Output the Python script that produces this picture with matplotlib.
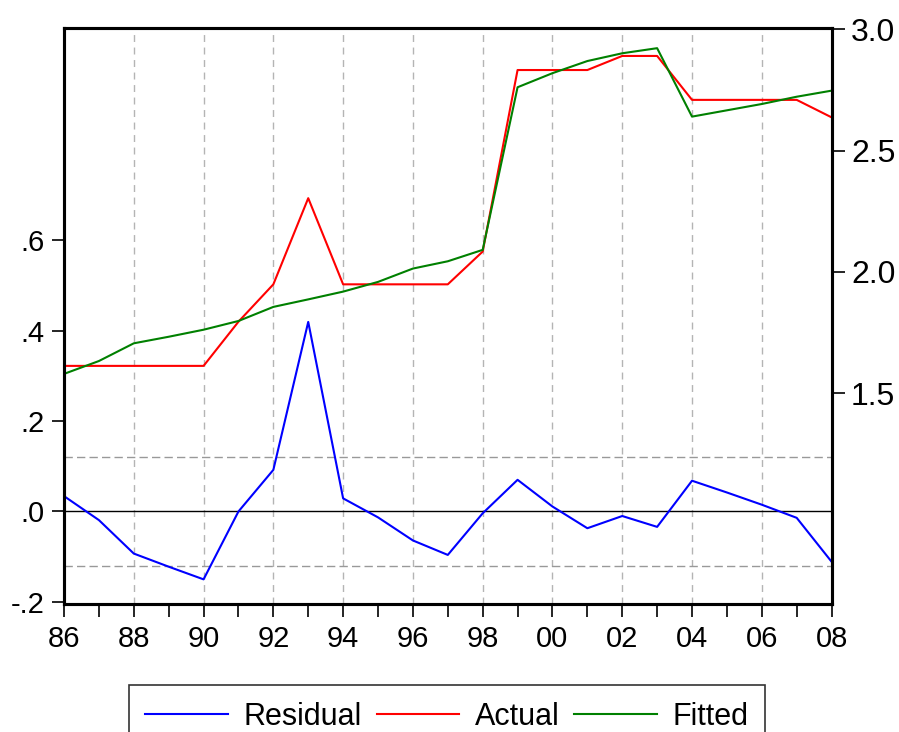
import numpy as np
import matplotlib.pyplot as plt
from matplotlib.ticker import FuncFormatter

plt.rcParams['font.family'] = ['Liberation Sans', 'DejaVu Sans']

years = np.arange(1986, 2009)

residual = [0.034, -0.019, -0.093, -0.122, -0.150, 0.000, 0.092, 0.419,
            0.029, -0.013, -0.064, -0.096, -0.004, 0.070, 0.011, -0.037,
            -0.010, -0.034, 0.068, 0.042, 0.015, -0.014, -0.111]
actual = [1.613, 1.613, 1.613, 1.613, 1.613, 1.795, 1.949, 2.304,
          1.949, 1.949, 1.949, 1.949, 2.084, 2.832, 2.832, 2.832,
          2.890, 2.890, 2.709, 2.709, 2.709, 2.709, 2.637]
fitted = [1.580, 1.633, 1.706, 1.733, 1.762, 1.798, 1.856, 1.887,
          1.919, 1.959, 2.014, 2.044, 2.091, 2.761, 2.819, 2.869,
          2.901, 2.922, 2.640, 2.666, 2.692, 2.722, 2.747]

resid_band = 0.12
left_ticks = [-0.2, 0.0, 0.2, 0.4, 0.6]
right_ticks = [1.5, 2.0, 2.5, 3.0]

fig = plt.figure(figsize=(8.99, 7.32), dpi=100)
ax = fig.add_axes([0.0712, 0.1749, 0.8538, 0.7868])
ax2 = ax.twinx()

# vertical grid every two years
for yr in range(1988, 2008, 2):
    ax.axvline(yr, color='#b4b4b4', lw=1.0, ls=(0, (5, 4)), zorder=0)
ax.axhline(resid_band, color='#999999', lw=1.0, ls=(0, (6, 3)), zorder=0)
ax.axhline(-resid_band, color='#999999', lw=1.0, ls=(0, (6, 3)), zorder=0)
ax.axhline(0, color='black', lw=1.0, zorder=1)

l1, = ax.plot(years, residual, color='#0000ff', lw=1.5, label='Residual')
l2, = ax2.plot(years, actual, color='#ff0000', lw=1.5, label='Actual')
l3, = ax2.plot(years, fitted, color='#008000', lw=1.5, label='Fitted')

ax.set_xlim(1986, 2008)
ax.set_ylim(-0.2044, 1.0685)
ax2.set_ylim(0.632, 3.005)

ax.set_xticks(years)
ax.set_xticklabels(['%02d' % (y % 100) if y % 2 == 0 else '' for y in years])
ax.set_yticks(left_ticks)
ax.yaxis.set_major_formatter(FuncFormatter(
    lambda v, p: ('%.1f' % v).replace('0.', '.') if abs(v) > 1e-9 else '.0'))
ax2.set_yticks(right_ticks)
ax2.yaxis.set_major_formatter(FuncFormatter(lambda v, p: '%.1f' % v))

for a in (ax, ax2):
    a.tick_params(direction='out', length=9, width=1.2, labelsize=21, pad=5)
    for s in a.spines.values():
        s.set_linewidth(2.2)
ax.tick_params(axis='x', pad=6)
ax2.tick_params(axis='y', labelsize=23)

leg = fig.legend(handles=[l1, l2, l3], loc='upper center', ncol=3,
                 bbox_to_anchor=(0.497, 1 - 685 / 732), borderaxespad=0,
                 fontsize=22, frameon=True, fancybox=False,
                 edgecolor='black', handlelength=2.7, handletextpad=0.5,
                 columnspacing=0.5, borderpad=0.55)
leg.get_frame().set_linewidth(1.2)

fig.savefig('out.png', dpi=100)
